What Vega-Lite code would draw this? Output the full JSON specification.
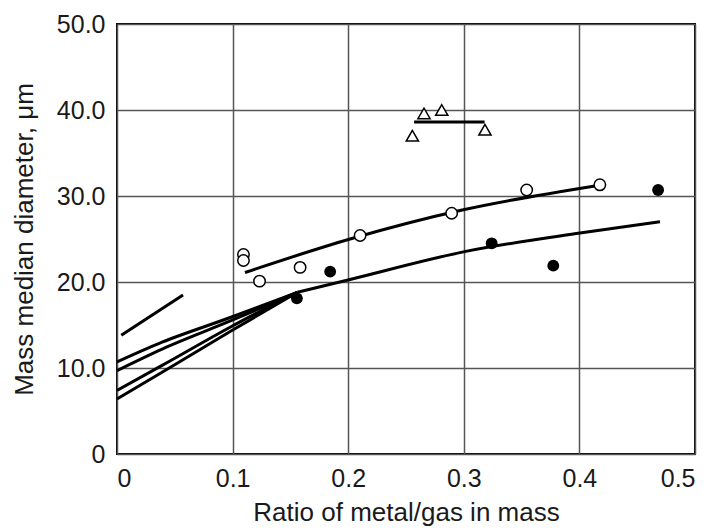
{
  "$schema": "https://vega.github.io/schema/vega-lite/v6.json",
  "autosize": "none",
  "padding": {"left": 117, "top": 24, "right": 11, "bottom": 78},
  "width": 578,
  "height": 430,
  "background": "white",
  "config": {
    "view": {"stroke": "black", "strokeWidth": 2},
    "font": "Liberation Sans",
    "axis": {
      "grid": true,
      "gridColor": "#555555",
      "gridWidth": 1.5,
      "domain": false,
      "ticks": false,
      "labelFont": "Liberation Sans",
      "labelFontSize": 25,
      "labelColor": "#1a1a1a",
      "titleFont": "Liberation Sans",
      "titleFontSize": 26,
      "titleFontWeight": "normal",
      "titleColor": "#1a1a1a"
    }
  },
  "datasets": {
    "lines": [
      {"series": "A", "x": 0, "y": 10.7},
      {"series": "A", "x": 0.039, "y": 13.0},
      {"series": "A", "x": 0.0986, "y": 15.9},
      {"series": "A", "x": 0.156, "y": 18.8},
      {"series": "B", "x": 0, "y": 9.7},
      {"series": "B", "x": 0.039, "y": 12.2},
      {"series": "B", "x": 0.0986, "y": 15.5},
      {"series": "B", "x": 0.156, "y": 18.8},
      {"series": "C", "x": 0, "y": 7.4},
      {"series": "C", "x": 0.039, "y": 10.3},
      {"series": "C", "x": 0.0986, "y": 14.8},
      {"series": "C", "x": 0.156, "y": 18.8},
      {"series": "D", "x": 0, "y": 6.4},
      {"series": "D", "x": 0.039, "y": 9.5},
      {"series": "D", "x": 0.0986, "y": 14.3},
      {"series": "D", "x": 0.156, "y": 18.8},
      {"series": "filledFit", "x": 0.156, "y": 18.8},
      {"series": "filledFit", "x": 0.2016, "y": 20.3},
      {"series": "filledFit", "x": 0.2996, "y": 23.5},
      {"series": "filledFit", "x": 0.4005, "y": 25.7},
      {"series": "filledFit", "x": 0.4697, "y": 27.0},
      {"series": "openFit", "x": 0.1107, "y": 21.1},
      {"series": "openFit", "x": 0.2016, "y": 25.0},
      {"series": "openFit", "x": 0.2996, "y": 28.4},
      {"series": "openFit", "x": 0.415, "y": 31.2},
      {"series": "triFit", "x": 0.257, "y": 38.6},
      {"series": "triFit", "x": 0.318, "y": 38.6},
      {"series": "short", "x": 0.0037, "y": 13.8},
      {"series": "short", "x": 0.0571, "y": 18.5}
    ],
    "points": [
      {"kind": "open", "x": 0.1094, "y": 23.2},
      {"kind": "open", "x": 0.1094, "y": 22.5},
      {"kind": "open", "x": 0.1233, "y": 20.1},
      {"kind": "open", "x": 0.1584, "y": 21.7},
      {"kind": "open", "x": 0.2103, "y": 25.4},
      {"kind": "open", "x": 0.2895, "y": 28.0},
      {"kind": "open", "x": 0.3544, "y": 30.7},
      {"kind": "open", "x": 0.4177, "y": 31.3},
      {"kind": "filled", "x": 0.1556, "y": 18.1},
      {"kind": "filled", "x": 0.1844, "y": 21.2},
      {"kind": "filled", "x": 0.3241, "y": 24.5},
      {"kind": "filled", "x": 0.3774, "y": 21.9},
      {"kind": "filled", "x": 0.4681, "y": 30.7},
      {"kind": "triangle", "x": 0.2555, "y": 37.0},
      {"kind": "triangle", "x": 0.2656, "y": 39.6},
      {"kind": "triangle", "x": 0.2809, "y": 40.0},
      {"kind": "triangle", "x": 0.3183, "y": 37.7}
    ]
  },
  "encoding": {
    "x": {
      "field": "x", "type": "quantitative",
      "scale": {"domain": [0, 0.5], "nice": false, "zero": false},
      "axis": {
        "values": [0, 0.1, 0.2, 0.3, 0.4, 0.5],
        "labelExpr": "datum.value == 0 ? '0' : format(datum.value, '.1f')",
        "labelPadding": 12,
        "titlePadding": 8,
        "title": "Ratio of metal/gas in mass"
      }
    },
    "y": {
      "field": "y", "type": "quantitative",
      "scale": {"domain": [0, 50], "nice": false, "zero": false},
      "axis": {
        "values": [0, 10, 20, 30, 40, 50],
        "labelExpr": "datum.value == 0 ? '0' : format(datum.value, '.1f')",
        "labelPadding": 12,
        "titlePadding": 19,
        "title": "Mass median diameter, μm"
      }
    }
  },
  "layer": [
    {
      "data": {"name": "lines"},
      "mark": {"type": "line", "color": "black", "strokeWidth": 3, "interpolate": "monotone", "clip": true},
      "encoding": {"detail": {"field": "series", "type": "nominal"}}
    },
    {
      "data": {"name": "points"},
      "transform": [{"filter": "datum.kind == 'open'"}],
      "mark": {"type": "point", "shape": "circle", "size": 130, "filled": true, "fill": "white", "stroke": "black", "strokeWidth": 1.5, "opacity": 1}
    },
    {
      "data": {"name": "points"},
      "transform": [{"filter": "datum.kind == 'filled'"}],
      "mark": {"type": "point", "shape": "circle", "size": 140, "filled": true, "fill": "black", "strokeWidth": 0, "opacity": 1}
    },
    {
      "data": {"name": "points"},
      "transform": [{"filter": "datum.kind == 'triangle'"}],
      "mark": {"type": "point", "shape": "triangle-up", "size": 150, "filled": true, "fill": "white", "stroke": "black", "strokeWidth": 1.5, "opacity": 1}
    }
  ]
}
